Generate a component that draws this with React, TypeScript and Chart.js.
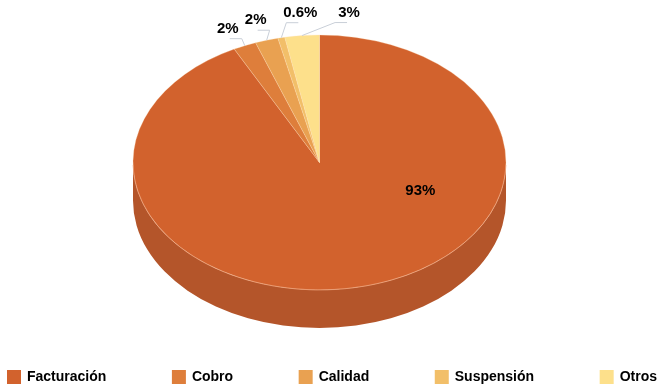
import React, { useEffect, useRef } from "react";
import { Chart, registerables } from "chart.js";

Chart.register(...registerables);

// ---- data ----
const categories = ["Facturación", "Cobro", "Calidad", "Suspensión", "Otros"];
const values = [93, 2, 2, 0.6, 3];
const valueLabels = ["93%", "2%", "2%", "0.6%", "3%"];

// ---- styles ----
const topColors = ["#D2622D", "#DE7E3B", "#E9A151", "#F2BF69", "#FDE08B"];
const sideColors = ["#B4552A", "#BE6C33", "#C98A46", "#D1A459", "#DBC278"];
// label offsets (px) relative to slice rim point at mid-angle
const labelOffsets: [number, number][] = [
  [57, -96],
  [-17, -17],
  [-11, -20],
  [19, -25],
  [47, -23],
];
const DEPTH_RATIO = 0.204;
const LABEL_FONT = "bold 15px Arial, 'Liberation Sans', sans-serif";
const LEGEND_FONT = "bold 14px Arial, 'Liberation Sans', sans-serif";

function geom(chart: any) {
  const area = chart.chartArea;
  const rx = (area.right - area.left) / 2;
  const depth = rx * DEPTH_RATIO;
  const ry = (area.bottom - area.top - depth) / 2;
  const cx = (area.left + area.right) / 2;
  const cy = area.top + ry;
  return { rx, ry, cx, cy, depth };
}

const pie3d = {
  id: "pie3d",
  beforeDatasetsDraw(chart: any) {
    const meta = chart.getDatasetMeta(0);
    const arcs = meta.data as any[];
    if (!arcs.length) return;
    const { rx, ry, cx, cy, depth } = geom(chart);
    const ctx = chart.ctx as CanvasRenderingContext2D;
    // extruded side (front half only: canvas angles 0..PI)
    arcs.forEach((arc, i) => {
      const s = Math.max(arc.startAngle, 0);
      const e = Math.min(arc.endAngle, Math.PI);
      if (e <= s) return;
      ctx.save();
      ctx.beginPath();
      ctx.ellipse(cx, cy, rx, ry, 0, s, e);
      ctx.ellipse(cx, cy + depth, rx, ry, 0, e, s, true);
      ctx.closePath();
      ctx.fillStyle = sideColors[i];
      ctx.fill();
      ctx.restore();
    });
    const a0 = arcs[0];
    const R = a0.outerRadius;
    ctx.save();
    ctx.translate(cx, cy);
    ctx.scale(rx / R, ry / R);
    ctx.translate(-a0.x, -a0.y);
  },
  afterDatasetsDraw(chart: any) {
    const meta = chart.getDatasetMeta(0);
    if (!meta.data.length) return;
    const ctx = chart.ctx as CanvasRenderingContext2D;
    ctx.restore();
    const { rx, ry, cx, cy } = geom(chart);
    // soft highlight on front rim
    ctx.save();
    ctx.beginPath();
    ctx.ellipse(cx, cy, rx, ry, 0, 0.02, Math.PI - 0.02);
    ctx.strokeStyle = "rgba(240,160,120,0.7)";
    ctx.lineWidth = 0.8;
    ctx.stroke();
    ctx.restore();
  },
  afterDraw(chart: any) {
    const meta = chart.getDatasetMeta(0);
    const arcs = meta.data as any[];
    if (!arcs.length) return;
    const ctx = chart.ctx as CanvasRenderingContext2D;
    const { rx, ry, cx, cy } = geom(chart);

    // data labels with leader lines
    ctx.save();
    ctx.font = LABEL_FONT;
    ctx.textAlign = "center";
    ctx.textBaseline = "middle";
    arcs.forEach((arc, i) => {
      const mid = (arc.startAngle + arc.endAngle) / 2;
      const ax = cx + rx * Math.cos(mid);
      const ay = cy + ry * Math.sin(mid);
      const lx = ax + labelOffsets[i][0];
      const ly = ay + labelOffsets[i][1];
      const inside = ((lx - cx) / rx) ** 2 + ((ly - cy) / ry) ** 2 < 1;
      if (!inside) {
        const sign = Math.sign(ax - lx) || 1;
        const hy = ly + 10;
        ctx.beginPath();
        ctx.moveTo(lx + sign * 2, hy);
        ctx.lineTo(lx + sign * 14, hy);
        ctx.lineTo(ax, ay);
        ctx.strokeStyle = "#C9CFD8";
        ctx.lineWidth = 1;
        ctx.stroke();
      }
      ctx.fillStyle = "#000";
      ctx.fillText(valueLabels[i], lx, ly);
    });
    ctx.restore();

    // legend, spread across the width
    ctx.save();
    ctx.font = LEGEND_FONT;
    ctx.textBaseline = "middle";
    ctx.textAlign = "left";
    const box = 14;
    const gapBT = 6;
    const widths = categories.map((c) => box + gapBT + ctx.measureText(c).width);
    const total = widths.reduce((a, b) => a + b, 0);
    const left = 7;
    const right = chart.width - 2;
    const gap = (right - left - total) / (categories.length - 1);
    const yc = chart.height - 11;
    let x = left;
    categories.forEach((c, i) => {
      ctx.fillStyle = topColors[i];
      ctx.fillRect(x, yc - box / 2, box, box);
      ctx.fillStyle = "#000";
      ctx.fillText(c, x + box + gapBT, yc);
      x += widths[i] + gap;
    });
    ctx.restore();
  },
};

export default function App() {
  const ref = useRef<HTMLCanvasElement | null>(null);
  useEffect(() => {
    document.body.style.margin = "0";
    if (!ref.current) return;
    const chart = new Chart(ref.current, {
      type: "pie",
      data: {
        labels: categories,
        datasets: [
          {
            data: values,
            backgroundColor: topColors,
            borderColor: "rgba(255,225,190,0.45)",
            borderWidth: 0.6,
            hoverOffset: 0,
          },
        ],
      },
      options: {
        responsive: false,
        animation: false,
        layout: { padding: { left: 133, right: 153, top: 35, bottom: 60 } },
        plugins: {
          legend: { display: false },
          tooltip: { enabled: false },
        },
      },
      plugins: [pie3d],
    });
    return () => chart.destroy();
  }, []);
  return (
    <div style={{ position: "fixed", left: 0, top: 0, width: 659, height: 388, background: "#fff" }}>
      <canvas ref={ref} width={659} height={388} style={{ width: 659, height: 388, display: "block" }} />
    </div>
  );
}
